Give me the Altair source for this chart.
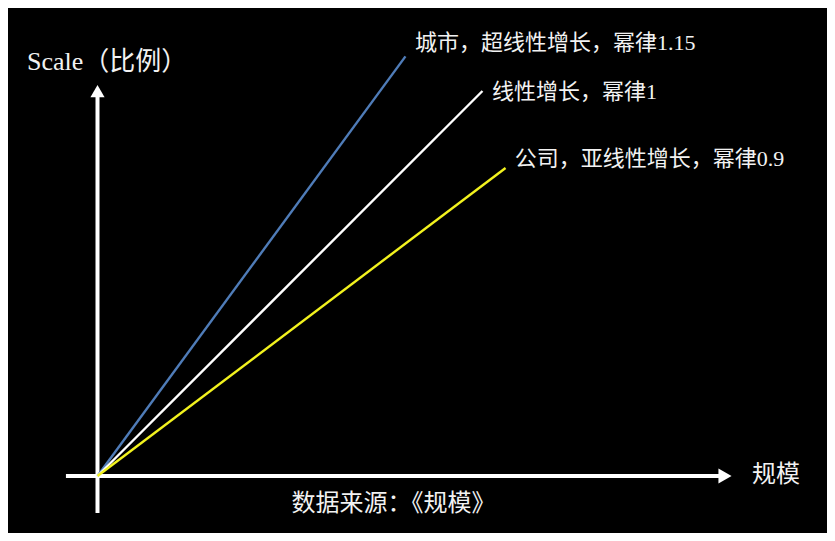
import altair as alt
import pandas as pd

# ---- data (white line is y = x) ----
series = ["城市，超线性增长，幂律1.15", "线性增长，幂律1", "公司，亚线性增长，幂律0.9"]
end_x = [8.0, 10.0, 10.6]
end_y = [10.9, 10.0, 8.0]
colors = ["#4F7CB8", "#FFFFFF", "#F2F21E"]

label_x = [8.25, 10.25, 10.84]
label_y = [11.25, 9.97, 8.23]

x_title = "规模"
y_title = "Scale（比例）"
source = "数据来源：《规模》"

FONT = "'Liberation Serif', 'Noto Sans CJK SC', serif"
TXT = "#F2F2F2"

rows = []
for s, ex, ey in zip(series, end_x, end_y):
    rows.append({"series": s, "x": 0.0, "y": 0.0, "o": 0})
    rows.append({"series": s, "x": ex, "y": ey, "o": 1})
lines_df = pd.DataFrame(rows)

xs = alt.Scale(domain=[-2.325, 18.95], nice=False, zero=False)
ys = alt.Scale(domain=[-1.48, 12.156], nice=False, zero=False)

X = lambda f: alt.X(f, type="quantitative", scale=xs, axis=None)
Y = lambda f: alt.Y(f, type="quantitative", scale=ys, axis=None)

axes_df = pd.DataFrame({"x": [-0.82, 0.0], "y": [0.0, -0.96], "x2": [16.2, 0.0], "y2": [0.0, 9.95]})
axes = alt.Chart(axes_df).mark_rule(color="white", strokeWidth=4).encode(
    x=X("x"), y=Y("y"), x2="x2", y2="y2"
)

heads_r = alt.Chart(pd.DataFrame({"x": [16.3], "y": [0.0]})).mark_point(
    shape="triangle-right", filled=True, color="white", opacity=1, size=230
).encode(x=X("x"), y=Y("y"))
heads_u = alt.Chart(pd.DataFrame({"x": [0.0], "y": [10.0]})).mark_point(
    shape="triangle-up", filled=True, color="white", opacity=1, size=200
).encode(x=X("x"), y=Y("y"))

lines = alt.Chart(lines_df).mark_line(strokeWidth=2.4).encode(
    x=X("x"), y=Y("y"), order="o:O",
    color=alt.Color("series:N", scale=alt.Scale(domain=series, range=colors), legend=None),
    detail="series:N",
)

labels_df = pd.DataFrame({"x": label_x, "y": label_y, "t": series})
labels = alt.Chart(labels_df).mark_text(
    align="left", baseline="middle", font=FONT, fontSize=22, color=TXT
).encode(x=X("x"), y=Y("y"), text="t:N")

ytitle = alt.Chart(pd.DataFrame({"x": [-1.83], "y": [10.75], "t": [y_title]})).mark_text(
    align="left", baseline="middle", font=FONT, fontSize=26, color=TXT
).encode(x=X("x"), y=Y("y"), text="t:N")

xtitle = alt.Chart(pd.DataFrame({"x": [17.0], "y": [0.03], "t": [x_title]})).mark_text(
    align="left", baseline="middle", font=FONT, fontSize=24, color=TXT
).encode(x=X("x"), y=Y("y"), text="t:N")

src = alt.Chart(pd.DataFrame({"x": [7.69], "y": [-0.73], "t": [source]})).mark_text(
    align="center", baseline="middle", font=FONT, fontSize=24, color=TXT
).encode(x=X("x"), y=Y("y"), text="t:N")

chart = alt.layer(axes, heads_r, heads_u, lines, labels, ytitle, xtitle, src).properties(
    width=819, height=525, background="black", padding=0,
    autosize=alt.AutoSizeParams(type="none"),
).configure_view(stroke=None, fill="black")

chart.save("out.html", embed_options={"renderer": "svg", "actions": False})
